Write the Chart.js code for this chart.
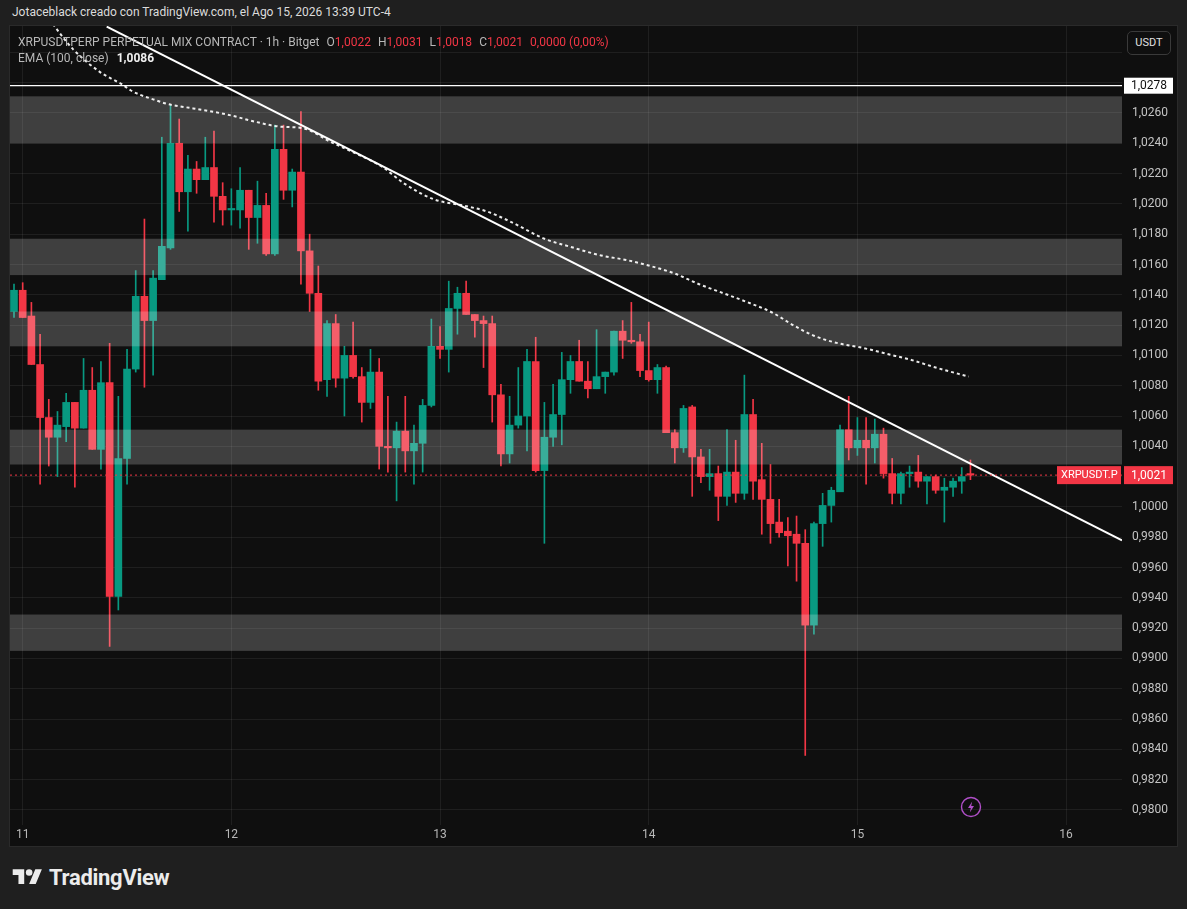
<!DOCTYPE html>
<html>
<head>
<meta charset="utf-8">
<script src="https://cdn.jsdelivr.net/npm/chart.js@4.4.1/dist/chart.umd.min.js"></script>
<style>
  html, body { margin:0; padding:0; width:1187px; height:909px; overflow:hidden; background:#1f1f1f; font-family: Roboto, "Noto Sans", sans-serif; }
  #hdr { position:absolute; left:12px; top:5px; font-size:12px; color:#dcdcdc; }
  #panel { position:absolute; left:10px; top:26px; width:1167px; height:820px; background:#0f0f0f; box-shadow:0 0 0 1px #2a2a2a; }
  #chart { display:block; }
  #legend { position:absolute; left:8px; top:8px; font-size:12px; line-height:16px; color:#b8b8b8; pointer-events:none; }
  #legend .r { color:#f23645; }
  #legend .g { margin-left:7px; }
  #legend .w { color:#f0f0f0; font-weight:bold; margin-left:8px; }
  #usdt { position:absolute; left:1117px; top:5px; width:44px; height:24px; box-sizing:border-box; border:1px solid #3a3a3a; border-radius:5px; background:#0f0f0f; color:#e0e0e0; font-size:11px; text-align:center; line-height:22px; }
  #bolt { position:absolute; left:950px; top:770px; }
  #logo { position:absolute; left:12px; top:865px; display:flex; align-items:center; color:#ececec; font-size:22px; font-weight:bold; letter-spacing:-0.3px; }
  #logo svg { margin-right:6px; }
</style>
</head>
<body>
<div id="hdr">Jotaceblack creado con TradingView.com, el Ago 15, 2026 13:39 UTC-4</div>
<div id="panel">
  <canvas id="chart" width="1167" height="820"></canvas>
  <div id="legend">
    <div>XRPUSDTPERP PERPETUAL MIX CONTRACT · 1h · Bitget<span class="g">O<span class="r">1,0022</span></span><span class="g">H<span class="r">1,0031</span></span><span class="g">L<span class="r">1,0018</span></span><span class="g">C<span class="r">1,0021</span></span><span class="g r">0,0000 (0,00%)</span></div>
    <div>EMA (100, close)<span class="w">1,0086</span></div>
  </div>
  <div id="usdt">USDT</div>
  <svg id="bolt" width="22" height="22" viewBox="0 0 22 22">
    <circle cx="11" cy="11" r="9.5" fill="none" stroke="#b04fc8" stroke-width="1.4"/>
    <path d="M12.2 5.5 L8 12 H10.8 L9.8 16.5 L14 10 H11.2 Z" fill="#b04fc8"/>
  </svg>
</div>
<div id="logo">
  <svg width="31" height="23" viewBox="0 0 36 28"><path d="M14 22H7V11H0V4h14v18zM28 22h-8l7.5-18h8L28 22z" fill="#ececec"/><circle cx="20" cy="8" r="4" fill="#ececec"/></svg>
  TradingView
</div>
<script>
// hourly candles, first one is Aug 10 23:00 (hour 0 = Aug 11 00:00)
const opens = [
  1.0129, 1.0143, 1.0126, 1.0094, 1.0059, 1.0046, 1.0053, 1.0069, 1.0052, 1.0077,
  1.0038, 1.0082, 0.9941, 1.0032, 1.0091, 1.0139, 1.0123, 1.0150, 1.0171, 1.0240,
  1.0208, 1.0223, 1.0216, 1.0224, 1.0205, 1.0196, 1.0196, 1.0209, 1.0191, 1.0199,
  1.0167, 1.0236, 1.0209, 1.0221, 1.0169, 1.0141, 1.0084, 1.0121, 1.0085, 1.0100,
  1.0086, 1.0069, 1.0089, 1.0040, 1.0039, 1.0050, 1.0037, 1.0042, 1.0067, 1.0106,
  1.0104, 1.0131, 1.0141, 1.0127, 1.0123, 1.0121, 1.0074, 1.0035, 1.0054, 1.0060,
  1.0096, 1.0024, 1.0046, 1.0061, 1.0084, 1.0096, 1.0083, 1.0078, 1.0086, 1.0089,
  1.0116, 1.0110, 1.0109, 1.0090, 1.0084, 1.0092, 1.0049, 1.0039, 1.0066, 1.0033,
  1.0020, 1.0022, 1.0007, 1.0023, 1.0009, 1.0061, 1.0018, 1.0005, 0.9990, 0.9984,
  0.9982, 0.9976, 0.9922, 0.9989, 1.0001, 1.0010, 1.0051, 1.0039, 1.0044, 1.0039,
  1.0048, 1.0022, 1.0009, 1.0022, 1.0023, 1.0017, 1.0020, 1.0011, 1.0013, 1.0017, 1.0022
]
const highs = [
  1.0147, 1.0148, 1.0135, 1.0114, 1.0071, 1.0063, 1.0075, 1.0069, 1.0098, 1.0092,
  1.0096, 1.0108, 1.0073, 1.0104, 1.0156, 1.0190, 1.0156, 1.0244, 1.0265, 1.0256,
  1.0232, 1.0228, 1.0244, 1.0248, 1.0214, 1.0210, 1.0224, 1.0209, 1.0215, 1.0207,
  1.0252, 1.0252, 1.0223, 1.0261, 1.0180, 1.0159, 1.0123, 1.0127, 1.0106, 1.0122,
  1.0092, 1.0104, 1.0098, 1.0073, 1.0056, 1.0073, 1.0054, 1.0071, 1.0124, 1.0119,
  1.0149, 1.0145, 1.0149, 1.0127, 1.0126, 1.0126, 1.0081, 1.0073, 1.0092, 1.0104,
  1.0112, 1.0069, 1.0081, 1.0102, 1.0100, 1.0110, 1.0096, 1.0117, 1.0089, 1.0116,
  1.0123, 1.0135, 1.0114, 1.0122, 1.0094, 1.0093, 1.0051, 1.0067, 1.0067, 1.0038,
  1.0038, 1.0027, 1.0051, 1.0044, 1.0087, 1.0071, 1.0042, 1.0028, 1.0005, 0.9993,
  0.9994, 0.9985, 0.9990, 1.0009, 1.0013, 1.0054, 1.0073, 1.0059, 1.0059, 1.0058,
  1.0052, 1.0032, 1.0023, 1.0027, 1.0034, 1.0020, 1.0021, 1.0019, 1.0019, 1.0026, 1.0031
]
const lows = [
  1.0125, 1.0125, 1.0094, 1.0015, 1.0027, 1.0020, 1.0043, 1.0013, 1.0052, 1.0038,
  1.0025, 0.9908, 0.9932, 1.0015, 1.0089, 1.0079, 1.0087, 1.0150, 1.0170, 1.0195,
  1.0182, 1.0207, 1.0216, 1.0188, 1.0186, 1.0186, 1.0184, 1.0170, 1.0174, 1.0166,
  1.0166, 1.0203, 1.0198, 1.0147, 1.0129, 1.0077, 1.0073, 1.0079, 1.0060, 1.0085,
  1.0056, 1.0065, 1.0025, 1.0023, 1.0004, 1.0023, 1.0015, 1.0023, 1.0066, 1.0098,
  1.0089, 1.0114, 1.0127, 1.0112, 1.0092, 1.0056, 1.0027, 1.0029, 1.0052, 1.0037,
  1.0023, 0.9976, 1.0040, 1.0041, 1.0075, 1.0083, 1.0072, 1.0078, 1.0075, 1.0087,
  1.0098, 1.0108, 1.0086, 1.0083, 1.0075, 1.0049, 1.0029, 1.0036, 1.0007, 1.0016,
  1.0011, 0.9991, 1.0001, 1.0003, 1.0005, 1.0005, 0.9982, 0.9976, 0.9980, 0.9961,
  0.9951, 0.9836, 0.9916, 0.9974, 0.9990, 1.0010, 1.0031, 1.0034, 1.0015, 1.0029,
  1.0019, 1.0002, 1.0002, 1.0013, 1.0013, 1.0002, 1.0009, 0.9990, 1.0007, 1.0009, 1.0018
]
const closes = [
  1.0143, 1.0125, 1.0094, 1.0059, 1.0046, 1.0054, 1.0069, 1.0052, 1.0077, 1.0038,
  1.0082, 0.9941, 1.0032, 1.0091, 1.0139, 1.0123, 1.0151, 1.0172, 1.0240, 1.0208,
  1.0223, 1.0216, 1.0224, 1.0205, 1.0196, 1.0197, 1.0209, 1.0191, 1.0199, 1.0167,
  1.0236, 1.0209, 1.0221, 1.0169, 1.0141, 1.0083, 1.0121, 1.0085, 1.0100, 1.0086,
  1.0069, 1.0089, 1.0040, 1.0039, 1.0050, 1.0037, 1.0042, 1.0067, 1.0106, 1.0104,
  1.0131, 1.0141, 1.0127, 1.0123, 1.0121, 1.0074, 1.0035, 1.0054, 1.0060, 1.0096,
  1.0024, 1.0046, 1.0061, 1.0084, 1.0096, 1.0083, 1.0078, 1.0086, 1.0089, 1.0116,
  1.0110, 1.0109, 1.0090, 1.0084, 1.0092, 1.0049, 1.0039, 1.0065, 1.0033, 1.0020,
  1.0022, 1.0007, 1.0023, 1.0009, 1.0061, 1.0017, 1.0005, 0.9989, 0.9983, 0.9981,
  0.9976, 0.9922, 0.9989, 1.0001, 1.0011, 1.0051, 1.0039, 1.0044, 1.0039, 1.0048,
  1.0022, 1.0009, 1.0022, 1.0023, 1.0017, 1.0020, 1.0011, 1.0013, 1.0017, 1.0020, 1.0021
]

// EMA(100)
const emaHours = [3.1, 3.7, 5.8, 8.9, 10.4, 11.4, 12.4, 13.5, 15.0, 16.6, 19.6, 23.5, 26.9, 29.6, 32.2, 35.4, 38.4, 41.2, 44.0, 47.3,
  50.6, 53.4, 56.2, 60.0, 62.8, 66.5, 69.4, 72.2, 75.0, 77.8, 80.6, 83.4, 86.3, 88.6, 91.0, 93.8, 96.6, 99.4, 102.2, 105.0, 108.8]
const emaValues = [1.0322, 1.0317, 1.0302, 1.0287, 1.0282, 1.0279, 1.0275, 1.0272, 1.0269, 1.0266, 1.0263, 1.0259, 1.0254, 1.0251, 1.0250, 1.0241, 1.0233, 1.0225, 1.0213, 1.0203,
  1.0199, 1.0195, 1.0188, 1.0177, 1.0172, 1.0166, 1.0163, 1.0159, 1.0154, 1.0147, 1.0141, 1.0135, 1.0128, 1.0120, 1.0113, 1.0108, 1.0105, 1.0101, 1.0097, 1.0092, 1.0086]

// drawn objects
const trendHours = [9.66, 126.43]
const trendPrices = [1.0317, 0.9978]
const zoneLows = [1.0240, 1.0153, 1.0106, 1.0028, 0.9905]
const zoneHighs = [1.0271, 1.0177, 1.0129, 1.0051, 0.9929]
const levelPrice = 1.0278
const lastPrice = 1.0021

// axes
const dayHours = [0, 24, 48, 72, 96, 120]
const dayLabels = ['11', '12', '13', '14', '15', '16']
const priceTicks = [0.980, 0.982, 0.984, 0.986, 0.988, 0.990, 0.992, 0.994, 0.996, 0.998, 1.000, 1.002, 1.004,
  1.006, 1.008, 1.010, 1.012, 1.014, 1.016, 1.018, 1.020, 1.022, 1.024, 1.026, 1.028, 1.030]

const xMin = -1.46, xMax = 126.43
const yMin = 0.97901, yMax = 1.03174
const upColor = '#089981'
const downColor = '#f23645'

const fmt = v => v.toFixed(4).replace('.', ',')
const candleHours = opens.map((_, i) => i - 1)
const candleColor = c => closes[c.dataIndex] >= opens[c.dataIndex] ? upColor : downColor

const noPad = s => { s.paddingTop = 0; s.paddingBottom = 0; s.paddingLeft = 0; s.paddingRight = 0 }

const overlays = {
  id: 'overlays',
  afterDatasetsDraw(chart) {
    const { ctx, chartArea: a, scales: { y } } = chart
    ctx.save()
    ctx.fillStyle = 'rgba(255,255,255,0.2)'
    zoneLows.forEach((lo, i) => {
      const top = y.getPixelForValue(zoneHighs[i])
      const bot = y.getPixelForValue(lo)
      ctx.fillRect(a.left, top, a.right - a.left, bot - top)
    })
    ctx.restore()
  },
  afterDraw(chart) {
    const { ctx, chartArea: a, scales: { y } } = chart
    ctx.save()
    ctx.font = '12px Roboto'
    ctx.textBaseline = 'middle'
    // level tag
    let py = y.getPixelForValue(levelPrice)
    ctx.fillStyle = '#ffffff'
    ctx.fillRect(a.right + 2, py - 8, 49, 16)
    ctx.fillStyle = '#0f0f0f'
    ctx.fillText(fmt(levelPrice), a.right + 9, py + 0.5)
    // last price tags
    py = y.getPixelForValue(lastPrice)
    ctx.fillStyle = downColor
    ctx.fillRect(a.right + 2, py - 9, 49, 18)
    ctx.fillRect(a.right - 65, py - 9, 64, 18)
    ctx.fillStyle = '#ffffff'
    ctx.fillText(fmt(lastPrice), a.right + 9, py + 0.5)
    ctx.font = '11px Roboto'
    ctx.fillText('XRPUSDT.P', a.right - 61, py + 0.5)
    ctx.restore()
  }
}

const ctx = document.getElementById('chart')

new Chart(ctx, {
  type: 'bar',
  data: {
    datasets: [
      {
        type: 'line',
        data: [{ x: xMin, y: lastPrice }, { x: xMax, y: lastPrice }],
        borderColor: downColor,
        borderWidth: 1,
        borderDash: [2, 3],
        pointRadius: 0,
        clip: 0,
        order: 0
      },
      {
        type: 'line',
        data: [{ x: xMin, y: levelPrice }, { x: xMax, y: levelPrice }],
        borderColor: '#ffffff',
        borderWidth: 1.3,
        pointRadius: 0,
        clip: 0,
        order: 0
      },
      {
        type: 'line',
        data: trendHours.map((h, i) => ({ x: h, y: trendPrices[i] })),
        borderColor: '#ffffff',
        borderWidth: 2,
        pointRadius: 0,
        clip: 0,
        order: 0
      },
      {
        type: 'line',
        data: emaHours.map((h, i) => ({ x: h, y: emaValues[i] })),
        borderColor: 'rgba(255,255,255,0.92)',
        borderWidth: 2,
        borderDash: [3, 3],
        cubicInterpolationMode: 'monotone',
        pointRadius: 0,
        clip: 0,
        order: 0
      },
      {
        data: candleHours.map((h, i) => ({ x: h, y: [lows[i], highs[i]] })),
        backgroundColor: candleColor,
        barThickness: 1,
        grouped: false,
        borderWidth: 0,
        order: 2
      },
      {
        data: candleHours.map((h, i) => ({ x: h, y: [opens[i], closes[i]] })),
        backgroundColor: candleColor,
        barThickness: 7,
        minBarLength: 1,
        grouped: false,
        borderWidth: 0,
        order: 1
      }
    ]
  },
  options: {
    responsive: false,
    animation: false,
    layout: { padding: 0 },
    plugins: {
      legend: { display: false },
      tooltip: { enabled: false }
    },
    scales: {
      x: {
        type: 'linear',
        offset: false,
        min: xMin,
        max: xMax,
        afterBuildTicks: s => { s.ticks = dayHours.map(v => ({ value: v })) },
        afterFit: s => { s.height = 21; noPad(s) },
        ticks: {
          color: '#b8b8b8',
          font: { size: 12, family: 'Roboto' },
          padding: 3,
          maxRotation: 0,
          autoSkip: false,
          callback: v => dayLabels[dayHours.indexOf(v)]
        },
        grid: { color: 'rgba(255,255,255,0.065)', drawTicks: false, offset: false },
        border: { display: false }
      },
      y: {
        position: 'right',
        min: yMin,
        max: yMax,
        afterBuildTicks: s => { s.ticks = priceTicks.map(v => ({ value: v })) },
        afterFit: s => { s.width = 55; noPad(s) },
        ticks: {
          color: '#c4c4c4',
          font: { size: 12, family: 'Roboto' },
          padding: 10,
          autoSkip: false,
          callback: v => (v > 1.02605 || Math.abs(v - 1.002) < 1e-6) ? '' : fmt(v)
        },
        grid: { color: 'rgba(255,255,255,0.065)', drawTicks: false },
        border: { display: false }
      }
    }
  },
  plugins: [overlays]
})
</script>
</body>
</html>
